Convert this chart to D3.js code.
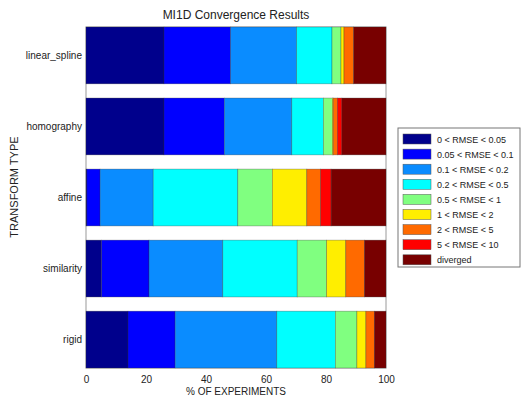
<!DOCTYPE html>
<html>
<head>
<meta charset="utf-8">
<script src="https://cdn.jsdelivr.net/npm/d3@7"></script>
<style>
  body { margin: 0; background: #fff; }
  text { font-family: "Liberation Sans", Arial, sans-serif; fill: #222; }
</style>
</head>
<body>
<div id="chart"></div>
<script>
// categories, top to bottom
const categories = ["linear_spline", "homography", "affine", "similarity", "rigid"];

// legend labels and colours for each RMSE bin
const seriesNames = ["0 < RMSE < 0.05", "0.05 < RMSE < 0.1", "0.1 < RMSE < 0.2", "0.2 < RMSE < 0.5",
  "0.5 < RMSE < 1", "1 < RMSE < 2", "2 < RMSE < 5", "5 < RMSE < 10", "diverged"];
const seriesColors = ["#00008c", "#0000ff", "#0a8cff", "#00ffff", "#80ff80", "#ffee00", "#ff6a00", "#ff0000", "#780000"];

// % of experiments per bin, in category order
const s0 = [26, 26, 0.3, 5.2, 14];
const s1 = [22.2, 20.1, 4.4, 15.8, 15.7];
const s2 = [22, 22.5, 17.7, 24.6, 33.9];
const s3 = [11.8, 10.5, 28.2, 24.8, 19.5];
const s4 = [3, 3, 11.5, 9.8, 7.2];
const s5 = [1, 0.3, 11.5, 6.4, 3];
const s6 = [3.2, 1.4, 4.6, 6.2, 2.8];
const s7 = [0, 1.5, 3.5, 0, 0];
const s8 = [10.8, 14.7, 18.3, 7.2, 3.9];
const seriesValues = [s0, s1, s2, s3, s4, s5, s6, s7, s8];

const xTicks = [0, 20, 40, 60, 80, 100];

function renderChart() {
  const W = 521, H = 401;
  const margin = {top: 27, right: 135, bottom: 33, left: 86};
  const width = W - margin.left - margin.right,
        height = H - margin.top - margin.bottom;

  const svg = d3.select("#chart").append("svg")
    .attr("width", W).attr("height", H);

  const g = svg.append("g")
    .attr("transform", `translate(${margin.left},${margin.top})`);

  // build table rows for the stack
  const rows = categories.map((c, i) => {
    const r = {name: c};
    seriesNames.forEach((s, j) => r[s] = seriesValues[j][i]);
    return r;
  });
  const stacked = d3.stack().keys(seriesNames)(rows);

  const x = d3.scaleLinear().domain([0, 100]).range([0, width]);
  const y = d3.scaleBand().domain(categories).range([0, height])
    .paddingInner(0.2).paddingOuter(0);

  // plot box
  g.append("rect")
    .attr("width", width).attr("height", height)
    .attr("fill", "#fff").attr("stroke", "#9a9a9a").attr("stroke-width", 1);

  // bars
  g.selectAll("g.series")
    .data(stacked)
    .enter().append("g")
      .attr("fill", (d, i) => seriesColors[i])
    .selectAll("rect")
    .data(d => d)
    .enter().append("rect")
      .attr("x", d => x(d[0]))
      .attr("y", d => y(d.data.name))
      .attr("width", d => x(d[1]) - x(d[0]))
      .attr("height", y.bandwidth())
      .attr("stroke", "#333")
      .attr("stroke-opacity", 0.5)
      .attr("stroke-width", 0.6);

  // x axis
  const xa = g.append("g")
    .attr("transform", `translate(0,${height})`)
    .call(d3.axisBottom(x).tickValues(xTicks).tickSize(0).tickPadding(8));
  xa.select(".domain").remove();
  xa.selectAll("text").style("font-size", "10px").style("fill", "#222");

  // y axis
  const ya = g.append("g")
    .call(d3.axisLeft(y).tickSize(0).tickPadding(4));
  ya.select(".domain").remove();
  ya.selectAll("text").style("font-size", "10px").style("fill", "#222");

  // title and axis labels
  svg.append("text")
    .attr("x", margin.left + width / 2).attr("y", 19)
    .attr("text-anchor", "middle")
    .style("font-size", "12px")
    .text("MI1D Convergence Results");

  svg.append("text")
    .attr("x", margin.left + width / 2).attr("y", 395)
    .attr("text-anchor", "middle")
    .style("font-size", "10px")
    .text("% OF EXPERIMENTS");

  svg.append("text")
    .attr("transform", "translate(18,187) rotate(-90)")
    .attr("text-anchor", "middle")
    .style("font-size", "11px")
    .text("TRANSFORM TYPE");

  // legend
  const lg = svg.append("g").attr("transform", "translate(398,128)");
  lg.append("rect")
    .attr("width", 122).attr("height", 139)
    .attr("fill", "#fff").attr("stroke", "#777");
  seriesNames.forEach((s, i) => {
    const row = lg.append("g").attr("transform", `translate(5,${6 + i * 15.1})`);
    row.append("rect")
      .attr("width", 28).attr("height", 10)
      .attr("fill", seriesColors[i])
      .attr("stroke", "#555").attr("stroke-width", 0.5);
    row.append("text")
      .attr("x", 34).attr("y", 8.5)
      .style("font-size", "9px")
      .text(s);
  });
}

renderChart();
</script>
</body>
</html>
